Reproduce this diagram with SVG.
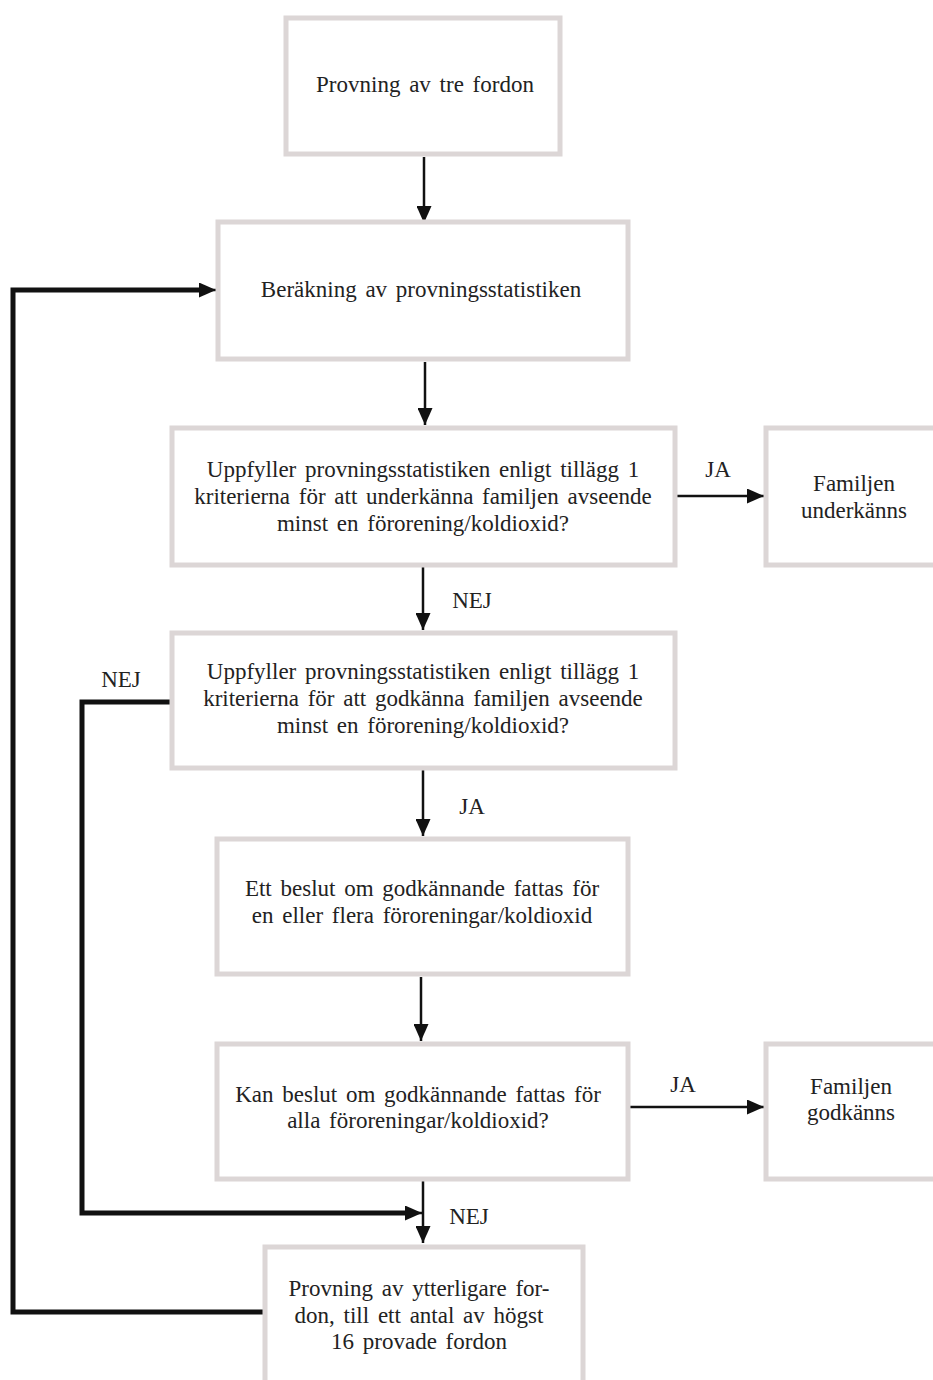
<svg xmlns="http://www.w3.org/2000/svg" width="933" height="1380" viewBox="0 0 933 1380">
  <style>
    .box { fill: #ffffff; stroke: #dcd6d6; stroke-width: 5; }
    .lbl { font-family: "Liberation Serif", "DejaVu Serif", serif; font-size: 23px; fill: #222222; text-anchor: middle; word-spacing: 3px; }
    .edge { fill: none; stroke: #111111; stroke-width: 2.5; }
    .loop { fill: none; stroke: #111111; stroke-width: 5; }
  </style>
  <defs>
    <marker id="head" viewBox="0 0 17 15" refX="17" refY="7.5" markerWidth="17" markerHeight="15" markerUnits="userSpaceOnUse" orient="auto">
      <path d="M0,0 L17,7.5 L0,15 Z" fill="#111111"/>
    </marker>
  </defs>
  <rect width="933" height="1380" fill="#ffffff"/>

  <g id="connectors">
    <line class="edge" x1="424" y1="157" x2="424" y2="223" marker-end="url(#head)"/>
    <line class="edge" x1="425" y1="362" x2="425" y2="425" marker-end="url(#head)"/>
    <line class="edge" x1="673" y1="496" x2="764" y2="496" marker-end="url(#head)"/>
    <line class="edge" x1="423" y1="567" x2="423" y2="630" marker-end="url(#head)"/>
    <line class="edge" x1="423" y1="770" x2="423" y2="836" marker-end="url(#head)"/>
    <line class="edge" x1="421" y1="977" x2="421" y2="1041" marker-end="url(#head)"/>
    <line class="edge" x1="630" y1="1107" x2="764" y2="1107" marker-end="url(#head)"/>
    <line class="edge" x1="423" y1="1178" x2="423" y2="1243" marker-end="url(#head)"/>
    <!-- NEJ branch down to the extra-vehicle test -->
    <polyline class="loop" points="172,702 82,702 82,1213 408,1213"/>
    <line class="edge" x1="400" y1="1213" x2="422" y2="1213" marker-end="url(#head)"/>
    <!-- loop from extra tests back to the statistic computation -->
    <polyline class="loop" points="263,1312 13,1312 13,290 200,290"/>
    <line class="edge" x1="195" y1="290" x2="216" y2="290" marker-end="url(#head)"/>
    <text class="lbl" x="718" y="477">JA</text>
    <text class="lbl" x="472" y="608">NEJ</text>
    <text class="lbl" x="121" y="687">NEJ</text>
    <text class="lbl" x="472" y="814">JA</text>
    <text class="lbl" x="683" y="1092">JA</text>
    <text class="lbl" x="469" y="1224">NEJ</text>
  </g>

  <g id="start">
    <rect class="box" x="286" y="18" width="274" height="136"/>
    <text class="lbl" x="425" y="92">Provning av tre fordon</text>
  </g>
  <g id="compute">
    <rect class="box" x="218" y="222" width="410" height="137"/>
    <text class="lbl" x="421" y="297">Beräkning av provningsstatistiken</text>
  </g>
  <g id="fail-check">
    <rect class="box" x="172" y="428" width="503" height="137"/>
    <text class="lbl" x="423" y="477">Uppfyller provningsstatistiken enligt tillägg 1</text>
    <text class="lbl" x="423" y="504">kriterierna för att underkänna familjen avseende</text>
    <text class="lbl" x="423" y="531">minst en förorening/koldioxid?</text>
  </g>
  <g id="family-fail">
    <rect class="box" x="766" y="428" width="175" height="137"/>
    <text class="lbl" x="854" y="491">Familjen</text>
    <text class="lbl" x="854" y="518">underkänns</text>
  </g>
  <g id="pass-check">
    <rect class="box" x="172" y="633" width="503" height="135"/>
    <text class="lbl" x="423" y="679">Uppfyller provningsstatistiken enligt tillägg 1</text>
    <text class="lbl" x="423" y="706">kriterierna för att godkänna familjen avseende</text>
    <text class="lbl" x="423" y="733">minst en förorening/koldioxid?</text>
  </g>
  <g id="pass-decision">
    <rect class="box" x="217" y="839" width="411" height="135"/>
    <text class="lbl" x="422" y="896">Ett beslut om godkännande fattas för</text>
    <text class="lbl" x="422" y="923">en eller flera föroreningar/koldioxid</text>
  </g>
  <g id="all-check">
    <rect class="box" x="217" y="1044" width="411" height="135"/>
    <text class="lbl" x="418" y="1102">Kan beslut om godkännande fattas för</text>
    <text class="lbl" x="418" y="1128">alla föroreningar/koldioxid?</text>
  </g>
  <g id="family-pass">
    <rect class="box" x="766" y="1044" width="175" height="135"/>
    <text class="lbl" x="851" y="1094">Familjen</text>
    <text class="lbl" x="851" y="1120">godkänns</text>
  </g>
  <g id="more-tests">
    <rect class="box" x="265" y="1247" width="318" height="150"/>
    <text class="lbl" x="419" y="1296">Provning av ytterligare for-</text>
    <text class="lbl" x="419" y="1323">don, till ett antal av högst</text>
    <text class="lbl" x="419" y="1349">16 provade fordon</text>
  </g>
</svg>
